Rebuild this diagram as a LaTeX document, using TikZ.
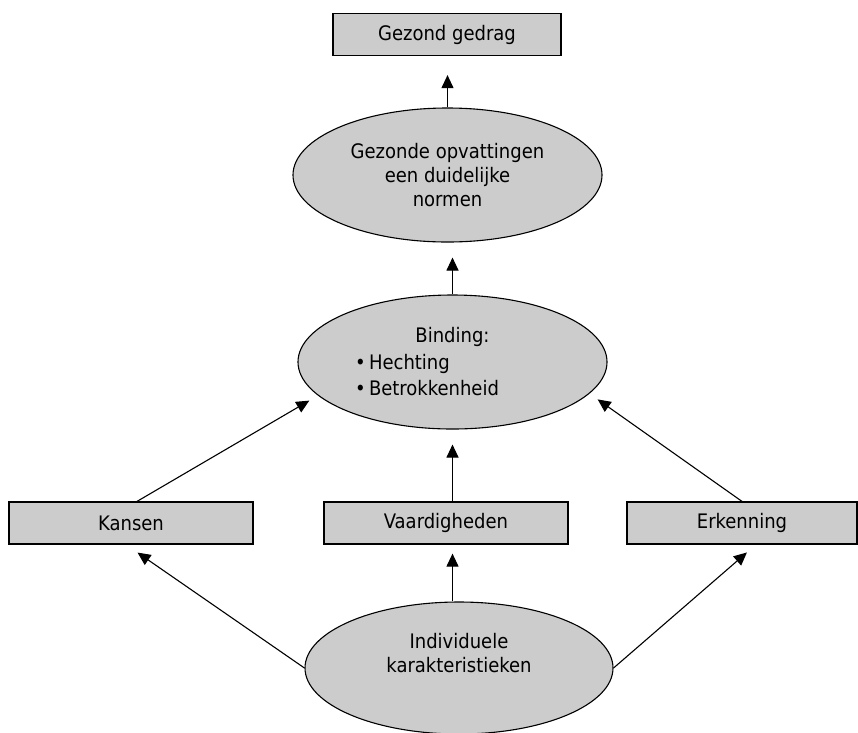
\documentclass[tikz,border=0pt]{standalone}
\usepackage{fontspec}
\setmainfont{DejaVu Sans Condensed}
\usetikzlibrary{shapes.geometric,arrows.meta}
\definecolor{boxgray}{HTML}{CCCCCC}
\begin{document}
\begin{tikzpicture}[x=1pt,y=-1pt,
  font=\fontsize{20}{24}\selectfont,
  box/.style={draw, fill=boxgray, line width=1.2pt, rectangle, inner sep=0pt, minimum height=42pt},
  oval/.style={draw, fill=boxgray, line width=1.1pt, ellipse, inner sep=0pt, minimum width=309pt, minimum height=134pt, align=center},
  arr/.style={-{Triangle[length=13pt,width=12pt]}, line width=1.1pt}]
\useasboundingbox (0,0) rectangle (858,732);
\node[box, minimum width=228pt] (top) at (447,34.5) {Gezond gedrag};
\node[oval] (e1) at (447.5,175) {Gezonde opvattingen\\een duidelijke\\normen};
\node[oval, font=\fontsize{20}{26.5}\selectfont] (e2) at (452.5,362) {Binding:\\\makebox[195pt][l]{\makebox[14pt][l]{•}Hechting}\\\makebox[195pt][l]{\makebox[14pt][l]{•}Betrokkenheid}};
\node[box, minimum width=244pt] (kansen) at (131,523) {Kansen};
\node[box, minimum width=244pt] (vaard) at (446,523) {Vaardigheden};
\node[box, minimum width=230pt] (erk) at (742,523) {Erkenning};
\node[oval, minimum width=308pt, minimum height=132pt] (e3) at (459,668) {Individuele\\karakteristieken\\\strut};
\draw[arr, shorten >=19pt] (e1.north) -- (e1.north |- top.south);
\draw[arr, shorten >=15pt] (e2.north) -- (e2.north |- e1.south);
\draw[arr, shorten >=15pt] (e2.south |- vaard.north) -- (e2.south);
\draw[arr, shorten >=9pt] (e2.south |- e3.north) -- (e2.south |- vaard.south);
\draw[arr, shorten >=10pt] ([xshift=6pt]kansen.north) -- (e2.194);
\draw[arr, shorten >=10pt] (erk.north) -- (e2.347);
\draw[arr, shorten >=14pt] (e3.west) -- ([xshift=-5pt]kansen.south);
\draw[arr, shorten >=12pt] (e3.east) -- ([xshift=14pt]erk.south);
\end{tikzpicture}
\end{document}
